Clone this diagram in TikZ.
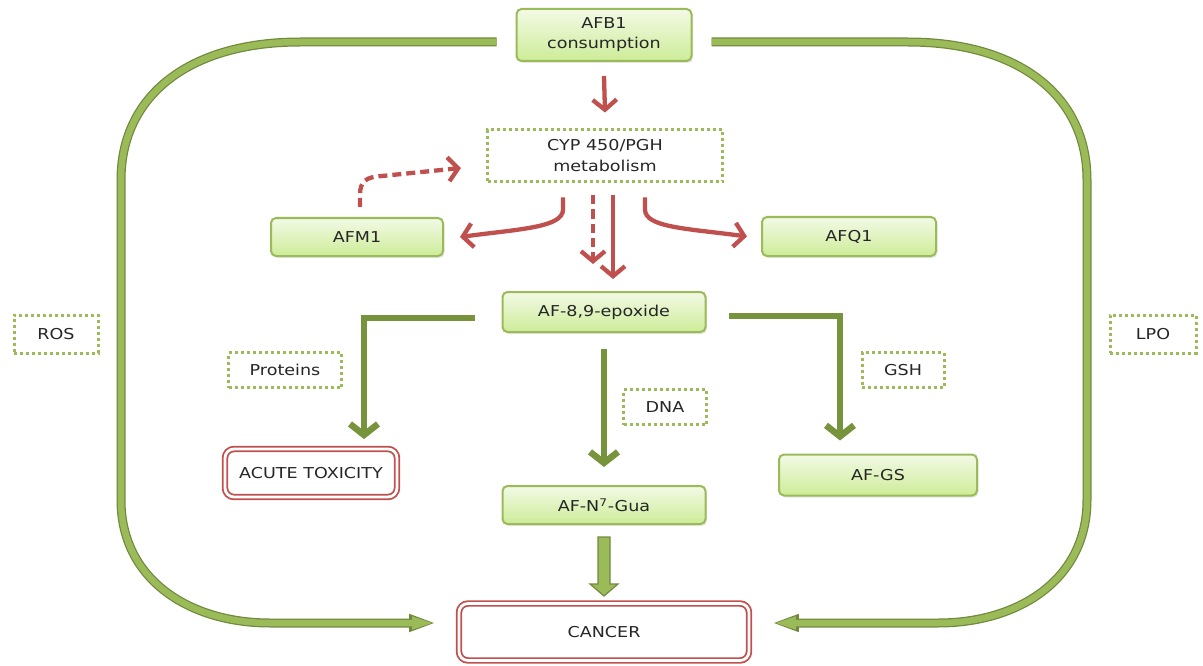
\documentclass[tikz,border=0pt]{standalone}
\usepackage{fontspec}
\setmainfont{DejaVu Sans}
\usepackage{graphicx}
\usetikzlibrary{arrows.meta,shadows,calc}
\definecolor{gborder}{HTML}{9BBB59}
\definecolor{gtop}{HTML}{F3FAE6}
\definecolor{gbot}{HTML}{CDEC98}
\definecolor{darrow}{HTML}{77933C}
\definecolor{loopdk}{HTML}{71893F}
\definecolor{looplt}{HTML}{9BBB59}
\definecolor{redc}{HTML}{C0504D}
\definecolor{txt}{HTML}{262626}
\newcommand{\sx}[1]{\scalebox{1.17}[1]{#1}}
\begin{document}
\begin{tikzpicture}[x=1pt,y=-1pt, font=\fontsize{15}{20}\selectfont, text=txt,
 gbox/.style={draw=gborder, line width=2pt, rounded corners=5pt, top color=gtop, bottom color=gbot, drop shadow={opacity=0.2,shadow xshift=1.5pt,shadow yshift=-2pt}, inner sep=0pt},
 dbox/.style={draw=gborder, line width=3pt, dash pattern=on 3pt off 3pt, fill=white, inner sep=0pt},
 rbox/.style={draw=redc, line width=1.8pt, double=white, double distance=2.8pt, rounded corners=9pt, fill=white, inner sep=0pt},
 rarrow/.style={draw=redc, line width=4.3pt, -{Straight Barb[length=10pt,width=24pt]}},
 rdash/.style={rarrow, dash pattern=on 9pt off 5pt},
 garrow/.style={draw=darrow, line width=6.5pt, line join=miter, -{Straight Barb[length=11pt,width=28pt]}},
 loopline/.style={draw=loopdk, line width=9pt, -{Triangle[length=27pt,width=16pt]}, postaction={draw=looplt, line width=6.5pt, -{Triangle[length=24pt,width=11pt]}}},
 blockarrow/.style={draw=loopdk, fill=looplt, line width=1.2pt, line join=miter}
]
\useasboundingbox (0,0) rectangle (1203,666);

\node[gbox, minimum width=175pt, minimum height=52pt, align=center] (afb) at (604,35) {\sx{AFB1}\\\sx{consumption}};
\node[dbox, minimum width=235pt, minimum height=52pt, align=center] (cyp) at (605,156) {\sx{CYP 450/PGH}\\[1pt]\sx{metabolism}};
\node[gbox, minimum width=172pt, minimum height=38pt] (afm) at (357,237) {\sx{AFM1}};
\node[gbox, minimum width=174pt, minimum height=39pt] (afq) at (849,236.5) {\sx{AFQ1}};
\node[gbox, minimum width=203pt, minimum height=40pt] (epo) at (604,312) {\sx{AF-8,9-epoxide}};
\node[dbox, minimum width=84pt, minimum height=38pt] (ros) at (56,334) {\sx{ROS}};
\node[dbox, minimum width=86pt, minimum height=38pt] (lpo) at (1153,334) {\sx{LPO}};
\node[dbox, minimum width=113pt, minimum height=35pt] (prot) at (285,370) {\sx{Proteins}};
\node[dbox, minimum width=82pt, minimum height=35pt] (gsh) at (903,370) {\sx{GSH}};
\node[dbox, minimum width=83pt, minimum height=35pt] (dna) at (665,407) {\sx{DNA}};
\node[rbox, minimum width=172pt, minimum height=48pt] (acute) at (311,473) {\sx{ACUTE TOXICITY}};
\node[gbox, minimum width=203pt, minimum height=38pt] (gua) at (604,505) {\sx{AF-N\textsuperscript{7}-Gua}};
\node[gbox, minimum width=198pt, minimum height=41pt] (afgs) at (878,475) {\sx{AF-GS}};
\node[rbox, minimum width=290pt, minimum height=57pt] (cancer) at (604,632) {\sx{CANCER}};

% red arrows
\draw[rarrow] ([yshift=-14pt]afb.south) -- ([yshift=16pt]cyp.north);
\draw[rarrow] ([xshift=-42pt,yshift=-14pt]cyp.south) -- ++(0,12) .. controls +(0,18) and +(60,-8) .. ([xshift=16pt]afm.east);
\draw[rarrow] ([xshift=40pt,yshift=-14pt]cyp.south) -- ++(0,12) .. controls +(0,18) and +(-60,-8) .. ([xshift=-14pt]afq.west);
\draw[rdash] ([xshift=-12pt,yshift=-12pt]cyp.south) -- ([xshift=-11pt,yshift=27pt]epo.north);
\draw[rarrow] ([xshift=8pt,yshift=-12pt]cyp.south) -- ([xshift=9pt,yshift=12pt]epo.north);
\draw[rdash] ([xshift=3pt,yshift=10pt]afm.north) -- ++(0,-12) .. controls +(0,-14) and +(-16,1) .. ++(22,-19) -- ([xshift=-25pt,yshift=-12pt]cyp.west);

% green arrows
\draw[garrow] ([xshift=-27pt,yshift=-6pt]epo.west) -| ([xshift=53pt,yshift=9pt]acute.north);
\draw[garrow] ([xshift=22pt,yshift=-4pt]epo.east) -| ([xshift=-38pt,yshift=13pt]afgs.north);
\draw[garrow] ([yshift=-16pt]epo.south) -- ([yshift=18pt]gua.north);

% block arrow to cancer
\draw[blockarrow] (gua.south) ++(-6,12) -- ++(0,47) -- ++(-8,0) -- ++(14,12) -- ++(14,-12) -- ++(-8,0) -- ++(0,-47) -- cycle;

% big loop
\draw[loopline] ([xshift=-19pt,yshift=-7pt]afb.west) -- (300,42) .. controls (190,42) and (121,95) .. (121,180) -- (121,500) .. controls (121,580) and (190,623) .. (270,623) -- ([xshift=-22pt,yshift=9pt]cancer.west);
\draw[loopline] ([xshift=19pt,yshift=-7pt]afb.east) -- (908,42) .. controls (1018,42) and (1087,95) .. (1087,180) -- (1087,500) .. controls (1087,580) and (1018,623) .. (938,623) -- ([xshift=22pt,yshift=9pt]cancer.east);
\end{tikzpicture}
\end{document}
